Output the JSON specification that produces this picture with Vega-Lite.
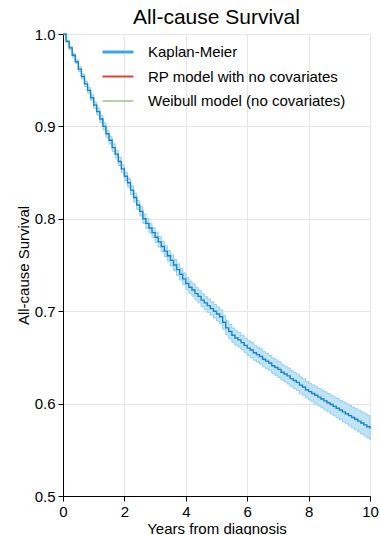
{
  "$schema": "https://vega.github.io/schema/vega-lite/v6.json",
  "autosize": {"type": "none"},
  "padding": {"left": 63, "top": 34, "right": 10, "bottom": 39},
  "width": 307,
  "height": 462,
  "background": "white",
  "title": {"text": "All-cause Survival", "fontSize": 21, "font": "Liberation Sans", "fontWeight": "normal", "color": "black", "anchor": "middle", "offset": -1},
  "config": {
    "view": {"stroke": null},
    "font": "Liberation Sans",
    "axis": {
      "labelFont": "Liberation Sans", "labelFontSize": 15, "labelColor": "black", "labelFlush": false,
      "titleFont": "Liberation Sans", "titleFontSize": 15, "titleFontWeight": "normal", "titleColor": "black",
      "domainColor": "black", "domainWidth": 1, "tickColor": "black", "tickSize": 5,
      "gridColor": "#e6e6e6", "gridWidth": 1, "labelPadding": 3
    },
    "legend": {
      "orient": "none", "legendX": 38, "legendY": 1,
      "labelFont": "Liberation Sans", "labelFontSize": 15, "labelColor": "black", "labelLimit": 320,
      "symbolType": "stroke", "symbolSize": 961, "labelOffset": 13, "rowPadding": -2.5,
      "symbolOpacity": 1
    }
  },
  "datasets": {
    "km": [
      {"series":"Kaplan-Meier","t":0.0,"s":1.000,"lo":1.000,"hi":1.000},
      {"series":"Kaplan-Meier","t":0.1,"s":0.992,"lo":0.991,"hi":0.993},
      {"series":"Kaplan-Meier","t":0.2,"s":0.985,"lo":0.9835,"hi":0.9865},
      {"series":"Kaplan-Meier","t":0.3,"s":0.977,"lo":0.975,"hi":0.979},
      {"series":"Kaplan-Meier","t":0.4,"s":0.970,"lo":0.968,"hi":0.972},
      {"series":"Kaplan-Meier","t":0.5,"s":0.962,"lo":0.9595,"hi":0.9645},
      {"series":"Kaplan-Meier","t":0.6,"s":0.954,"lo":0.9513,"hi":0.9567},
      {"series":"Kaplan-Meier","t":0.7,"s":0.946,"lo":0.9431,"hi":0.9489},
      {"series":"Kaplan-Meier","t":0.8,"s":0.939,"lo":0.9359,"hi":0.9421},
      {"series":"Kaplan-Meier","t":0.9,"s":0.931,"lo":0.9277,"hi":0.9343},
      {"series":"Kaplan-Meier","t":1.0,"s":0.923,"lo":0.9195,"hi":0.9265},
      {"series":"Kaplan-Meier","t":1.1,"s":0.916,"lo":0.9124,"hi":0.9196},
      {"series":"Kaplan-Meier","t":1.2,"s":0.908,"lo":0.9043,"hi":0.9117},
      {"series":"Kaplan-Meier","t":1.3,"s":0.900,"lo":0.8962,"hi":0.9038},
      {"series":"Kaplan-Meier","t":1.4,"s":0.892,"lo":0.8881,"hi":0.8959},
      {"series":"Kaplan-Meier","t":1.5,"s":0.885,"lo":0.881,"hi":0.889},
      {"series":"Kaplan-Meier","t":1.6,"s":0.877,"lo":0.8729,"hi":0.8811},
      {"series":"Kaplan-Meier","t":1.7,"s":0.870,"lo":0.8658,"hi":0.8742},
      {"series":"Kaplan-Meier","t":1.8,"s":0.862,"lo":0.8577,"hi":0.8663},
      {"series":"Kaplan-Meier","t":1.9,"s":0.854,"lo":0.8496,"hi":0.8584},
      {"series":"Kaplan-Meier","t":2.0,"s":0.846,"lo":0.8415,"hi":0.8505},
      {"series":"Kaplan-Meier","t":2.1,"s":0.839,"lo":0.8344,"hi":0.8436},
      {"series":"Kaplan-Meier","t":2.2,"s":0.831,"lo":0.8263,"hi":0.8357},
      {"series":"Kaplan-Meier","t":2.3,"s":0.823,"lo":0.8182,"hi":0.8278},
      {"series":"Kaplan-Meier","t":2.4,"s":0.815,"lo":0.8101,"hi":0.8199},
      {"series":"Kaplan-Meier","t":2.5,"s":0.808,"lo":0.803,"hi":0.813},
      {"series":"Kaplan-Meier","t":2.6,"s":0.800,"lo":0.7949,"hi":0.8051},
      {"series":"Kaplan-Meier","t":2.7,"s":0.795,"lo":0.7898,"hi":0.8002},
      {"series":"Kaplan-Meier","t":2.8,"s":0.790,"lo":0.7847,"hi":0.7953},
      {"series":"Kaplan-Meier","t":2.9,"s":0.785,"lo":0.7796,"hi":0.7904},
      {"series":"Kaplan-Meier","t":3.0,"s":0.780,"lo":0.7745,"hi":0.7855},
      {"series":"Kaplan-Meier","t":3.1,"s":0.775,"lo":0.7694,"hi":0.7806},
      {"series":"Kaplan-Meier","t":3.2,"s":0.770,"lo":0.7643,"hi":0.7757},
      {"series":"Kaplan-Meier","t":3.3,"s":0.765,"lo":0.7592,"hi":0.7708},
      {"series":"Kaplan-Meier","t":3.4,"s":0.760,"lo":0.7541,"hi":0.7659},
      {"series":"Kaplan-Meier","t":3.5,"s":0.755,"lo":0.749,"hi":0.761},
      {"series":"Kaplan-Meier","t":3.6,"s":0.750,"lo":0.7439,"hi":0.7561},
      {"series":"Kaplan-Meier","t":3.7,"s":0.745,"lo":0.7388,"hi":0.7512},
      {"series":"Kaplan-Meier","t":3.8,"s":0.740,"lo":0.7337,"hi":0.7463},
      {"series":"Kaplan-Meier","t":3.9,"s":0.735,"lo":0.7286,"hi":0.7414},
      {"series":"Kaplan-Meier","t":4.0,"s":0.730,"lo":0.7235,"hi":0.7365},
      {"series":"Kaplan-Meier","t":4.1,"s":0.726,"lo":0.7194,"hi":0.7326},
      {"series":"Kaplan-Meier","t":4.2,"s":0.723,"lo":0.7163,"hi":0.7297},
      {"series":"Kaplan-Meier","t":4.3,"s":0.719,"lo":0.7122,"hi":0.7258},
      {"series":"Kaplan-Meier","t":4.4,"s":0.716,"lo":0.7091,"hi":0.7229},
      {"series":"Kaplan-Meier","t":4.5,"s":0.712,"lo":0.705,"hi":0.719},
      {"series":"Kaplan-Meier","t":4.6,"s":0.709,"lo":0.7019,"hi":0.7161},
      {"series":"Kaplan-Meier","t":4.7,"s":0.706,"lo":0.6988,"hi":0.7132},
      {"series":"Kaplan-Meier","t":4.8,"s":0.703,"lo":0.6957,"hi":0.7103},
      {"series":"Kaplan-Meier","t":4.9,"s":0.700,"lo":0.6926,"hi":0.7074},
      {"series":"Kaplan-Meier","t":5.0,"s":0.697,"lo":0.6895,"hi":0.7045},
      {"series":"Kaplan-Meier","t":5.1,"s":0.694,"lo":0.6865,"hi":0.7015},
      {"series":"Kaplan-Meier","t":5.2,"s":0.688,"lo":0.6804,"hi":0.6956},
      {"series":"Kaplan-Meier","t":5.3,"s":0.682,"lo":0.6744,"hi":0.6896},
      {"series":"Kaplan-Meier","t":5.4,"s":0.678,"lo":0.6703,"hi":0.6857},
      {"series":"Kaplan-Meier","t":5.5,"s":0.674,"lo":0.6663,"hi":0.6817},
      {"series":"Kaplan-Meier","t":5.6,"s":0.671,"lo":0.6632,"hi":0.6788},
      {"series":"Kaplan-Meier","t":5.7,"s":0.669,"lo":0.6612,"hi":0.6768},
      {"series":"Kaplan-Meier","t":5.8,"s":0.666,"lo":0.6581,"hi":0.6739},
      {"series":"Kaplan-Meier","t":5.9,"s":0.663,"lo":0.6551,"hi":0.6709},
      {"series":"Kaplan-Meier","t":6.0,"s":0.660,"lo":0.652,"hi":0.668},
      {"series":"Kaplan-Meier","t":6.1,"s":0.658,"lo":0.650,"hi":0.666},
      {"series":"Kaplan-Meier","t":6.2,"s":0.655,"lo":0.6469,"hi":0.6631},
      {"series":"Kaplan-Meier","t":6.3,"s":0.653,"lo":0.6449,"hi":0.6611},
      {"series":"Kaplan-Meier","t":6.4,"s":0.651,"lo":0.6428,"hi":0.6592},
      {"series":"Kaplan-Meier","t":6.5,"s":0.648,"lo":0.6398,"hi":0.6562},
      {"series":"Kaplan-Meier","t":6.6,"s":0.646,"lo":0.6377,"hi":0.6543},
      {"series":"Kaplan-Meier","t":6.7,"s":0.644,"lo":0.6357,"hi":0.6523},
      {"series":"Kaplan-Meier","t":6.8,"s":0.641,"lo":0.6326,"hi":0.6494},
      {"series":"Kaplan-Meier","t":6.9,"s":0.639,"lo":0.6306,"hi":0.6474},
      {"series":"Kaplan-Meier","t":7.0,"s":0.637,"lo":0.6285,"hi":0.6455},
      {"series":"Kaplan-Meier","t":7.1,"s":0.634,"lo":0.6255,"hi":0.6425},
      {"series":"Kaplan-Meier","t":7.2,"s":0.632,"lo":0.6234,"hi":0.6406},
      {"series":"Kaplan-Meier","t":7.3,"s":0.630,"lo":0.6214,"hi":0.6386},
      {"series":"Kaplan-Meier","t":7.4,"s":0.627,"lo":0.6183,"hi":0.6357},
      {"series":"Kaplan-Meier","t":7.5,"s":0.625,"lo":0.6163,"hi":0.6337},
      {"series":"Kaplan-Meier","t":7.6,"s":0.623,"lo":0.6142,"hi":0.6318},
      {"series":"Kaplan-Meier","t":7.7,"s":0.620,"lo":0.6112,"hi":0.6288},
      {"series":"Kaplan-Meier","t":7.8,"s":0.618,"lo":0.6091,"hi":0.6269},
      {"series":"Kaplan-Meier","t":7.9,"s":0.615,"lo":0.6061,"hi":0.6239},
      {"series":"Kaplan-Meier","t":8.0,"s":0.613,"lo":0.604,"hi":0.622},
      {"series":"Kaplan-Meier","t":8.1,"s":0.611,"lo":0.6018,"hi":0.6202},
      {"series":"Kaplan-Meier","t":8.2,"s":0.609,"lo":0.5997,"hi":0.6183},
      {"series":"Kaplan-Meier","t":8.3,"s":0.607,"lo":0.5975,"hi":0.6165},
      {"series":"Kaplan-Meier","t":8.4,"s":0.605,"lo":0.5954,"hi":0.6146},
      {"series":"Kaplan-Meier","t":8.5,"s":0.603,"lo":0.5932,"hi":0.6128},
      {"series":"Kaplan-Meier","t":8.6,"s":0.601,"lo":0.5911,"hi":0.6109},
      {"series":"Kaplan-Meier","t":8.7,"s":0.599,"lo":0.5889,"hi":0.6091},
      {"series":"Kaplan-Meier","t":8.8,"s":0.597,"lo":0.5868,"hi":0.6072},
      {"series":"Kaplan-Meier","t":8.9,"s":0.595,"lo":0.5846,"hi":0.6054},
      {"series":"Kaplan-Meier","t":9.0,"s":0.593,"lo":0.5825,"hi":0.6035},
      {"series":"Kaplan-Meier","t":9.1,"s":0.591,"lo":0.5803,"hi":0.6017},
      {"series":"Kaplan-Meier","t":9.2,"s":0.589,"lo":0.5781,"hi":0.5999},
      {"series":"Kaplan-Meier","t":9.3,"s":0.587,"lo":0.5759,"hi":0.5981},
      {"series":"Kaplan-Meier","t":9.4,"s":0.585,"lo":0.5737,"hi":0.5963},
      {"series":"Kaplan-Meier","t":9.5,"s":0.583,"lo":0.5715,"hi":0.5945},
      {"series":"Kaplan-Meier","t":9.6,"s":0.581,"lo":0.5693,"hi":0.5927},
      {"series":"Kaplan-Meier","t":9.7,"s":0.579,"lo":0.5671,"hi":0.5909},
      {"series":"Kaplan-Meier","t":9.8,"s":0.577,"lo":0.5649,"hi":0.5891},
      {"series":"Kaplan-Meier","t":9.9,"s":0.575,"lo":0.5627,"hi":0.5873},
      {"series":"Kaplan-Meier","t":10.0,"s":0.573,"lo":0.5605,"hi":0.5855}
    ]
  },
  "data": {"name": "km"},
  "encoding": {
    "x": {"field": "t", "type": "quantitative",
      "scale": {"domain": [0, 10], "nice": false, "zero": false},
      "axis": {"values": [0, 2, 4, 6, 8, 10], "title": "Years from diagnosis", "titlePadding": 2}},
    "y": {"field": "s", "type": "quantitative",
      "scale": {"domain": [0.5, 1.0], "nice": false, "zero": false},
      "axis": {"values": [0.5, 0.6, 0.7, 0.8, 0.9, 1.0], "format": ".1f", "title": "All-cause Survival", "titlePadding": 3}}
  },
  "layer": [
    {
      "mark": {"type": "area", "interpolate": "step-after", "fill": "#c0e4f6", "stroke": "#93d1ef", "strokeWidth": 1},
      "encoding": {"y": {"field": "lo", "type": "quantitative"}, "y2": {"field": "hi"}}
    },
    {
      "mark": {"type": "line", "interpolate": "step-after", "color": "#1883c9", "strokeWidth": 1.4},
      "encoding": {}
    },
    {
      "mark": {"type": "line", "opacity": 0},
      "encoding": {
        "color": {"field": "series", "type": "nominal",
          "scale": {"domain": ["Kaplan-Meier", "RP model with no covariates", "Weibull model (no covariates)"], "range": ["#3aa7de", "#e8402a", "#6ea544"]},
          "legend": {"title": null}},
        "strokeWidth": {"field": "series", "type": "nominal",
          "scale": {"domain": ["Kaplan-Meier", "RP model with no covariates", "Weibull model (no covariates)"], "range": [3, 1, 1]},
          "legend": {"title": null}}
      }
    }
  ]
}
